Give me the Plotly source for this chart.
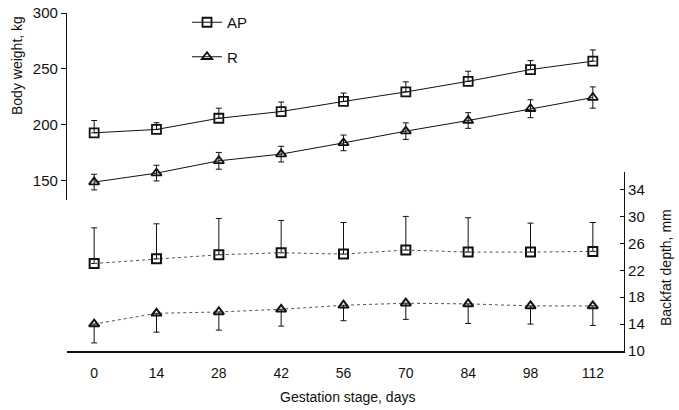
import plotly.graph_objects as go

days = [0, 14, 28, 42, 56, 70, 84, 98, 112]
x_ticks = ["0", "14", "28", "42", "56", "70", "84", "98", "112"]

bw_ap = [193, 196, 206, 212, 221, 229.5, 239, 249.5, 257]
bw_ap_sd = [11, 6, 9, 8.5, 7.5, 9, 9, 8, 10]
bw_r = [149, 157, 168, 174, 184, 194.5, 204, 214.5, 224.5]
bw_r_sd = [7, 7, 7.5, 7, 7, 7.4, 7, 8, 9.5]

bf_ap = [23.0, 23.7, 24.3, 24.6, 24.4, 25.0, 24.7, 24.7, 24.8]
bf_ap_sd = [5.3, 5.2, 5.4, 4.8, 4.7, 5.0, 5.1, 4.3, 4.3]
bf_r = [14.0, 15.6, 15.8, 16.2, 16.8, 17.1, 17.0, 16.7, 16.7]
bf_r_sd = [2.8, 2.8, 2.7, 2.5, 2.3, 2.4, 2.9, 2.7, 2.9]

FONT = "Liberation Sans, Arial, sans-serif"
BLACK = "#111111"

fig = go.Figure()

def err(vals, symmetric=True, up=True):
    if symmetric:
        return dict(type="data", array=vals, visible=True, color=BLACK, thickness=1, width=3)
    zeros = [0] * len(vals)
    if up:
        return dict(type="data", array=vals, arrayminus=zeros, symmetric=False,
                    visible=True, color=BLACK, thickness=1, width=3)
    return dict(type="data", array=zeros, arrayminus=vals, symmetric=False,
                visible=True, color=BLACK, thickness=1, width=3)

fig.add_trace(go.Scatter(
    x=days, y=bw_ap, name="AP", legendgroup="AP", mode="lines+markers",
    line=dict(color=BLACK, width=1),
    marker=dict(symbol="square-open", size=9, color=BLACK, line=dict(width=1.8, color=BLACK)),
    error_y=err(bw_ap_sd, symmetric=False, up=True), yaxis="y", xaxis="x"))
fig.add_trace(go.Scatter(
    x=days, y=bw_r, name="R", legendgroup="R", mode="lines+markers",
    line=dict(color=BLACK, width=1),
    marker=dict(symbol="triangle-up-open", size=9, color=BLACK, line=dict(width=1.8, color=BLACK)),
    error_y=err(bw_r_sd), yaxis="y", xaxis="x"))
fig.add_trace(go.Scatter(
    x=days, y=bf_ap, name="AP", legendgroup="AP", showlegend=False, mode="lines+markers",
    line=dict(color="#555555", width=1, dash="dot"),
    marker=dict(symbol="square-open", size=9, color=BLACK, line=dict(width=2, color=BLACK)),
    error_y=err(bf_ap_sd, symmetric=False, up=True), yaxis="y2", xaxis="x"))
fig.add_trace(go.Scatter(
    x=days, y=bf_r, name="R", legendgroup="R", showlegend=False, mode="lines+markers",
    line=dict(color="#555555", width=1, dash="dot"),
    marker=dict(symbol="triangle-up-open", size=9, color=BLACK, line=dict(width=2, color=BLACK)),
    error_y=err(bf_r_sd, symmetric=False, up=False), yaxis="y2", xaxis="x"))

W, H = 679, 410
ml, mr, mt, mb = 67, 55, 13, 59
pw = W - ml - mr
ph = H - mt - mb

def px_x(p):
    return (p - ml) / pw

def px_y(p):
    return (H - mb - p) / ph

fig.update_layout(
    width=W, height=H,
    margin=dict(l=ml, r=mr, t=mt, b=mb, pad=0, autoexpand=False),
    paper_bgcolor="white", plot_bgcolor="rgba(0,0,0,0)",
    font=dict(family=FONT, size=14, color=BLACK),
    showlegend=True,
    legend=dict(x=px_x(187), y=1 + 7 / ph, xanchor="left", yanchor="top",
                bgcolor="rgba(0,0,0,0)", tracegroupgap=12, font=dict(size=15),
                itemwidth=30),
    xaxis=dict(
        range=[-6.1, 119], tickmode="array", tickvals=days, ticktext=x_ticks,
        showline=True, linecolor=BLACK, linewidth=1.5, ticks="", showgrid=False,
        zeroline=False, anchor="y2", ticklabelstandoff=8, automargin=False,
        tickfont=dict(size=14)),
    yaxis=dict(
        domain=[px_y(200), 1], range=[133, 300], tickvals=[150, 200, 250, 300],
        showline=True, linecolor=BLACK, linewidth=1.2, ticks="outside", ticklen=5,
        tickcolor=BLACK, showgrid=False, zeroline=False, anchor="x", automargin=False,
        tickfont=dict(size=15)),
    yaxis2=dict(
        domain=[0, px_y(172)], range=[10, 36.6], tickvals=[10, 14, 18, 22, 26, 30, 34],
        side="right", showline=True, linecolor=BLACK, linewidth=1.2, ticks="inside", ticklen=4,
        tickcolor=BLACK, showgrid=False, zeroline=False, anchor="x", automargin=False,
        tickfont=dict(size=15)),
    annotations=[
        dict(text="Gestation stage, days", xref="paper", yref="paper",
             x=px_x(347), y=px_y(397), xanchor="center", yanchor="middle",
             showarrow=False, font=dict(size=14)),
        dict(text="Body weight, kg", xref="paper", yref="paper", textangle=-90,
             x=px_x(17), y=px_y(66), xanchor="center", yanchor="middle",
             showarrow=False, font=dict(size=14)),
        dict(text="Backfat depth, mm", xref="paper", yref="paper", textangle=-90,
             x=px_x(666), y=px_y(268), xanchor="center", yanchor="middle",
             showarrow=False, font=dict(size=14)),
    ],
)

fig.write_html("out.html")
